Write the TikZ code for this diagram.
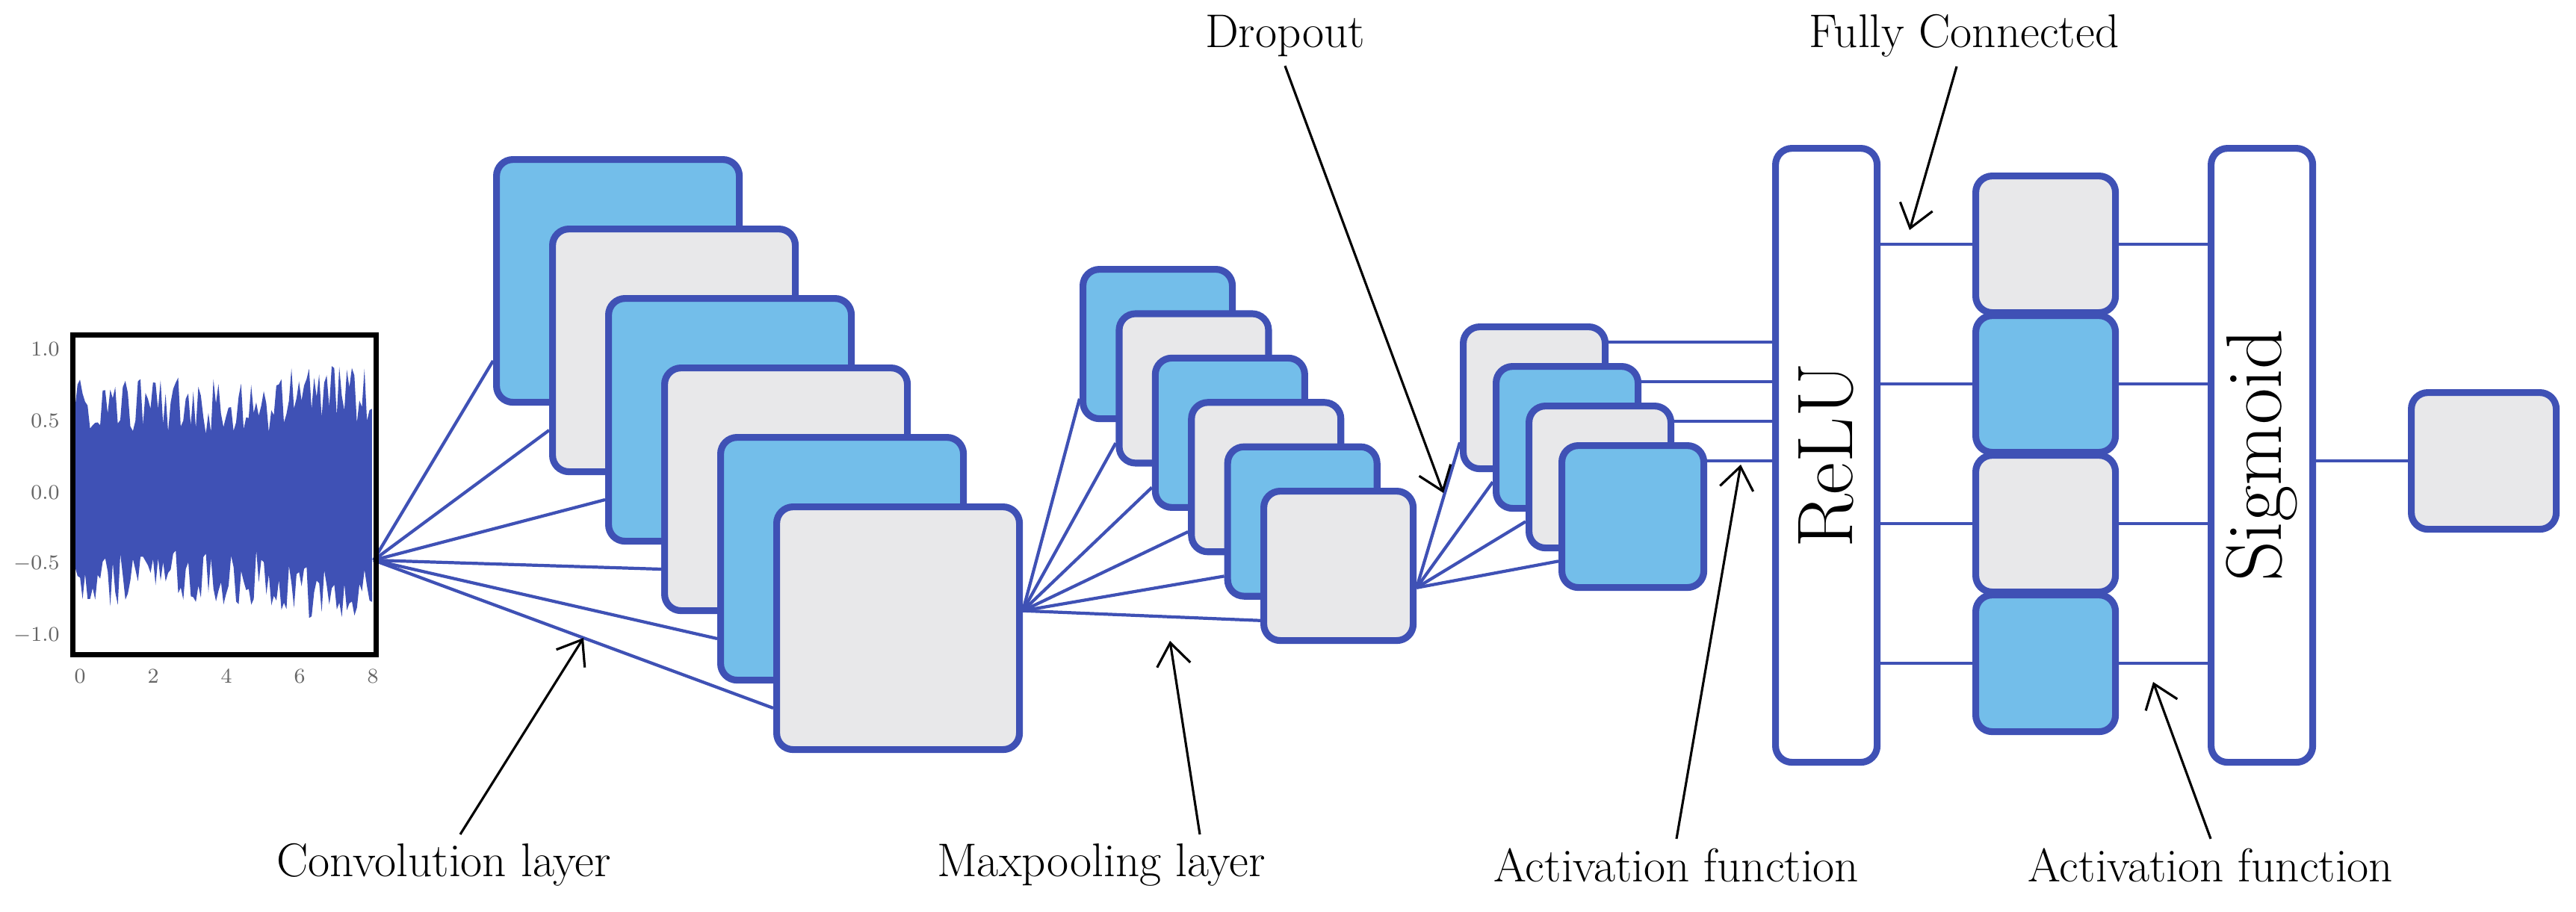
\documentclass[tikz,border=0pt]{standalone}
\usepackage{tikz}
\usetikzlibrary{arrows.meta, backgrounds, calc}
\definecolor{netblue}{RGB}{63,81,181}
\definecolor{mapblue}{RGB}{115,190,234}
\definecolor{mapgray}{RGB}{232,232,234}

\begin{document}
\begin{tikzpicture}[
    y=-1cm,
    fmap/.style={rectangle, draw=netblue, line width=2.6pt, rounded corners=0.22cm, anchor=north west, inner sep=0pt},
    conv/.style={fmap, minimum size=3.25cm},
    pool/.style={fmap, minimum size=2.0cm},
    act/.style={fmap, minimum size=1.9cm},
    bar/.style={fmap, fill=white, minimum width=1.36cm, minimum height=8.22cm},
    fc/.style={fmap, minimum width=1.87cm, minimum height=1.83cm},
    link/.style={draw=netblue, line width=1.2pt},
    note/.style={font=\fontsize{18}{22}\selectfont},
    tick/.style={font=\fontsize{8}{9}\selectfont, text=black!60},
    pointer/.style={-{Straight Barb[length=0.3cm, width=0.45cm]}, line width=0.9pt}
]
\useasboundingbox (0,0) rectangle (34.48,12.2);

% Input signal
\pgfmathsetseed{7}
\fill[netblue] plot[domain=0.97:4.98, samples=120] (\x, {6.59 - 1.92*(0.40 + 0.40*rnd + (\x > 3.7 ? 0.08 : 0))})
    -- plot[domain=4.98:0.97, samples=120] (\x, {6.59 + 1.92*(0.40 + 0.40*rnd + (\x > 3.7 ? 0.1 : 0))}) -- cycle;
\node[draw, line width=2pt, minimum width=4.06cm, minimum height=4.28cm, anchor=north west, inner sep=0pt] (signal) at (0.94,4.45) {};
\foreach \v/\t in {4.67/1.0, 5.63/0.5, 6.59/0.0, 7.55/-0.5, 8.51/-1.0}
    \node[tick, anchor=east] (ty\t) at (0.92,\v) {$\t$};
\foreach \k in {0,2,4,6,8}
    \node[tick] (tx\k) at ({1.07+0.49*\k}, 9.05) {$\k$};
\coordinate (src) at (5.0,7.5);

% Convolution layer
\foreach \i/\c in {1/mapblue, 2/mapgray, 3/mapblue, 4/mapgray, 5/mapblue, 6/mapgray}
    \node[conv, fill=\c] (conv\i) at ({6.60+0.75*(\i-1)}, {2.09+0.93*(\i-1)}) {};

% Maxpooling layer
\foreach \i/\c in {1/mapblue, 2/mapgray, 3/mapblue, 4/mapgray, 5/mapblue, 6/mapgray}
    \node[pool, fill=\c] (pool\i) at ({14.45+0.484*(\i-1)}, {3.56+0.594*(\i-1)}) {};

% Activation
\foreach \i/\c in {1/mapgray, 2/mapblue, 3/mapgray, 4/mapblue}
    \node[act, fill=\c] (act\i) at ({19.54+0.44*(\i-1)}, {4.33+0.53*(\i-1)}) {};

% ReLU, fully connected, sigmoid
\node[bar] (relu) at (23.72,1.94) {};
\node[rotate=90, font=\fontsize{30}{36}\selectfont] (relutext) at (relu.center) {ReLU};
\foreach \i/\c in {1/mapgray, 2/mapblue, 3/mapgray, 4/mapblue}
    \node[fc, fill=\c] (fc\i) at (26.40, {2.31+1.87*(\i-1)}) {};
\node[bar] (sig) at (29.55,1.94) {};
\node[rotate=90, font=\fontsize{30}{36}\selectfont] (sigtext) at (sig.center) {Sigmoid};
\node[fc, fill=mapgray, minimum width=1.94cm] (out) at (32.23,5.21) {};

% Connections
\begin{scope}[on background layer]
\foreach \i in {1,...,6}
    \draw[link] (src) -- ($(conv\i.north west)!0.82!(conv\i.south west)$);
\coordinate (poolsrc) at ($(conv6.north east)!0.43!(conv6.south east)$);
\foreach \i in {1,...,6}
    \draw[link] (poolsrc) -- ($(pool\i.north west)!0.85!(pool\i.south west)$);
\coordinate (actsrc) at ($(pool6.north east)!0.64!(pool6.south east)$);
\foreach \i in {1,...,4}
    \draw[link] (actsrc) -- ($(act\i.north west)!0.8!(act\i.south west)$);
\foreach \i in {1,...,4}
    \draw[link] ($(act\i.north east)+(0,0.25)$) coordinate (a\i) -- (a\i -| relu.west);
\foreach \i in {1,...,4} {
    \draw[link] (fc\i.west) -- (fc\i.west -| relu.east);
    \draw[link] (fc\i.east) -- (fc\i.east -| sig.west);
}
\draw[link] (out.west -| sig.east) -- (out.west);
\end{scope}

% Labels
\node[note] (convlabel) at (5.94,11.58) {Convolution layer};
\node[note] (poollabel) at (14.74,11.58) {Maxpooling layer};
\node[note] (actlabel) at (22.44,11.58) {Activation function};
\node[note] (act2label) at (29.59,11.58) {Activation function};
\node[note] (droplabel) at (17.20,0.48) {Dropout};
\node[note] (fclabel) at (26.29,0.48) {Fully Connected};
\coordinate (convtip) at (7.81,8.54);
\coordinate (pooltip) at (15.66,8.58);
\coordinate (acttip) at (23.30,6.22);
\coordinate (act2tip) at (28.82,9.13);
\coordinate (droptip) at (19.32,6.60);
\coordinate (fctip) at (25.56,3.08);
\draw[pointer] ($(convlabel.north)+(0.22,0)$) -- (convtip);
\draw[pointer] ($(poollabel.north)+(1.32,0)$) -- (pooltip);
\draw[pointer] (actlabel.north) -- (acttip);
\draw[pointer] (act2label.north) -- (act2tip);
\draw[pointer] (droplabel.south) -- (droptip);
\draw[pointer] ($(fclabel.south)+(-0.1,0)$) -- (fctip);
\end{tikzpicture}
\end{document}
